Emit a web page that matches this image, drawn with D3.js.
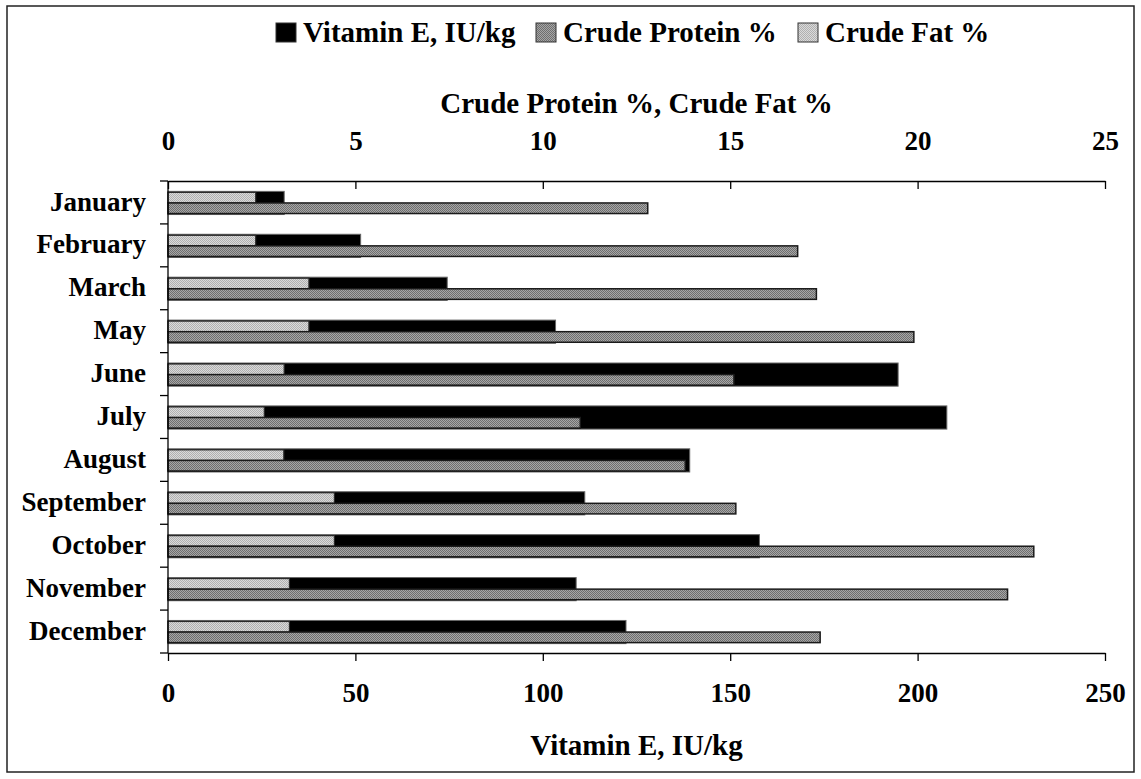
<!DOCTYPE html>
<html>
<head>
<meta charset="utf-8">
<script src="https://cdn.jsdelivr.net/npm/d3@7"></script>
<style>
  body { margin: 0; background: #fff; }
  svg text { font-family: "Liberation Serif", "Times New Roman", serif; font-weight: bold; fill: #000; }
</style>
</head>
<body>
<svg id="chart" width="1141" height="779"></svg>
<script>
const months = ["January", "February", "March", "May", "June", "July", "August",
                "September", "October", "November", "December"];
const vitaminE = [31, 51.4, 74.5, 103.4, 194.8, 207.8, 139.2, 111.2, 157.8, 108.9, 122.2];
const crudeProtein = [12.8, 16.8, 17.3, 19.9, 15.1, 11.0, 13.8, 15.15, 23.1, 22.4, 17.4];
const crudeFat = [2.34, 2.34, 3.76, 3.76, 3.1, 2.57, 3.09, 4.44, 4.44, 3.24, 3.24];
const vitTicks = [0, 50, 100, 150, 200, 250];
const pctTicks = [0, 5, 10, 15, 20, 25];
const legendNames = ["Vitamin E, IU/kg", "Crude Protein %", "Crude Fat %"];

const margin = {top: 181, right: 36, bottom: 126, left: 168};
const width = 1141, height = 779;

const svg = d3.select("#chart");

// fill patterns for the two dotted series
const defs = svg.append("defs");
function dotPattern(id, bg, dot) {
    const p = defs.append("pattern")
        .attr("id", id)
        .attr("width", 2).attr("height", 2)
        .attr("patternUnits", "userSpaceOnUse");
    p.append("rect").attr("width", 2).attr("height", 2).attr("fill", bg);
    p.append("rect").attr("width", 1).attr("height", 1).attr("fill", dot);
    p.append("rect").attr("x", 1).attr("y", 1).attr("width", 1).attr("height", 1).attr("fill", dot);
}
dotPattern("protein", "#a6a6a6", "#6e6e6e");
dotPattern("fat", "#dadada", "#b0b0b0");
const fills = ["#000", "url(#protein)", "url(#fat)"];

// outer frame
svg.append("rect")
    .attr("x", 7).attr("y", 6)
    .attr("width", 1127).attr("height", 766)
    .attr("fill", "none")
    .attr("stroke", "#222")
    .attr("stroke-width", 1.5);

const x = d3.scaleLinear()
    .domain([0, 250])
    .range([margin.left, width - margin.right]);

const x2 = d3.scaleLinear()
    .domain([0, 25])
    .range([margin.left, width - margin.right]);

const y = d3.scaleBand()
    .domain(months)
    .range([margin.top, height - margin.bottom])
    .padding(0);

const barH = y.bandwidth() * 0.54;
const barOff = (y.bandwidth() - barH) / 2 + 0.5;

const rows = months.map((m, i) => ({
    month: m, vit: vitaminE[i], protein: crudeProtein[i], fat: crudeFat[i]
}));

const g = svg.append("g");

// vitamin E: full-height black bar behind
g.selectAll("rect.vit")
    .data(rows)
    .join("rect")
    .attr("class", "vit")
    .attr("x", x(0))
    .attr("y", d => y(d.month) + barOff)
    .attr("width", d => x(d.vit) - x(0))
    .attr("height", barH)
    .attr("fill", "#000")
    .attr("stroke", "#666")
    .attr("stroke-width", 1);

// crude fat: upper half
g.selectAll("rect.fat")
    .data(rows)
    .join("rect")
    .attr("class", "fat")
    .attr("x", x2(0))
    .attr("y", d => y(d.month) + barOff + 1)
    .attr("width", d => x2(d.fat) - x2(0))
    .attr("height", barH / 2 - 1)
    .attr("fill", "url(#fat)")
    .attr("stroke", "#2a2a2a")
    .attr("stroke-width", 1.2);

// crude protein: lower half
g.selectAll("rect.protein")
    .data(rows)
    .join("rect")
    .attr("class", "protein")
    .attr("x", x2(0))
    .attr("y", d => y(d.month) + barOff + barH / 2)
    .attr("width", d => x2(d.protein) - x2(0))
    .attr("height", barH / 2 - 1)
    .attr("fill", "url(#protein)")
    .attr("stroke", "#1a1a1a")
    .attr("stroke-width", 1.5);

// top axis (percent)
const topAxis = svg.append("g")
    .attr("transform", `translate(0,${margin.top})`)
    .call(d3.axisTop(x2).tickValues(pctTicks).tickSizeInner(-8).tickSizeOuter(0).tickPadding(31));
topAxis.selectAll("text").style("font-size", "27px").attr("dy", "0");

// bottom axis (vitamin E)
const bottomAxis = svg.append("g")
    .attr("transform", `translate(0,${height - margin.bottom})`)
    .call(d3.axisBottom(x).tickValues(vitTicks).tickSizeInner(8).tickSizeOuter(0));
bottomAxis.selectAll("text").style("font-size", "27px").attr("y", 49).attr("dy", "0");

// left axis: labels only, ticks at band edges
const leftAxis = svg.append("g")
    .attr("transform", `translate(${margin.left},0)`)
    .call(d3.axisLeft(y).tickSize(0).tickPadding(22));
leftAxis.selectAll("text").style("font-size", "27px").attr("dy", "0.3em");
leftAxis.select(".domain").remove();

const edges = months.map(m => y(m)).concat([y.range()[1]]);
svg.append("line")
    .attr("x1", margin.left).attr("x2", margin.left)
    .attr("y1", margin.top).attr("y2", height - margin.bottom)
    .attr("stroke", "#000").attr("stroke-width", 1.3);
svg.selectAll("line.edge")
    .data(edges)
    .join("line")
    .attr("class", "edge")
    .attr("x1", margin.left - 8).attr("x2", margin.left)
    .attr("y1", d => d).attr("y2", d => d)
    .attr("stroke", "#000").attr("stroke-width", 1.3);

svg.selectAll(".tick line, .domain").attr("stroke", "#000").attr("stroke-width", 1.3);

// axis titles
svg.append("text")
    .attr("x", (margin.left + width - margin.right) / 2)
    .attr("y", 113)
    .attr("text-anchor", "middle")
    .style("font-size", "29px")
    .text("Crude Protein %, Crude Fat %");

svg.append("text")
    .attr("x", (margin.left + width - margin.right) / 2)
    .attr("y", 755)
    .attr("text-anchor", "middle")
    .style("font-size", "29px")
    .text("Vitamin E, IU/kg");

// legend
const legendX = [276, 536, 798];
const legend = svg.append("g");
legendNames.forEach((name, i) => {
    legend.append("rect")
        .attr("x", legendX[i]).attr("y", 23)
        .attr("width", 20).attr("height", 19)
        .attr("fill", fills[i])
        .attr("stroke", "#333")
        .attr("stroke-width", 1);
    legend.append("text")
        .attr("x", legendX[i] + 27)
        .attr("y", 42)
        .style("font-size", "29px")
        .text(name);
});
</script>
</body>
</html>
